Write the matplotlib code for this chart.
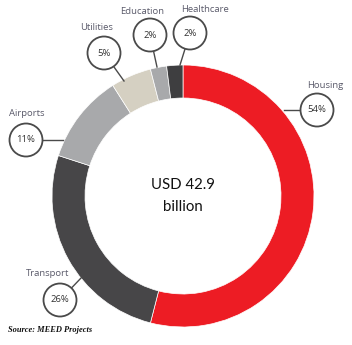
import matplotlib.pyplot as plt
from matplotlib.patches import Circle

# Data
CATEGORIES = ["Housing", "Transport", "Airports", "Utilities", "Education", "Healthcare"]
SHARES = [54, 26, 11, 5, 2, 2]
COLORS = ["#ED1C24", "#474648", "#A8A9AB", "#D5D0C2", "#A8A9AB", "#3E3E40"]
CENTER_TEXT = "USD 42.9\nbillion"
SOURCE = "Source: MEED Projects"

# Layout in pixel coordinates (y measured from bottom)
W, H = 352, 345
CX, CY = 183, H - 196
R_OUT, R_W = 131, 33

# circle position, label position, leader line start (on ring) per category
CALLOUTS = {
    "Housing": ((317, 110), (325, 85), (284, 110)),
    "Transport": ((60, 300), (48, 274), (82, 277)),
    "Airports": ((26, 140), (27, 114), (63, 140)),
    "Utilities": ((104, 53), (97, 28), (124, 81)),
    "Education": ((150, 35), (142, 11), (157, 67)),
    "Healthcare": ((190, 33), (205, 10), (180, 65)),
}
CIRCLE_R = 16.5


def main():
    fig = plt.figure(figsize=(W / 100, H / 100), dpi=100)
    ax = fig.add_axes([0, 0, 1, 1])

    ax.pie(
        SHARES,
        colors=COLORS,
        center=(CX, CY),
        radius=R_OUT,
        startangle=90,
        counterclock=False,
        wedgeprops=dict(width=R_W, linewidth=0.5, edgecolor="white"),
        frame=True,
    )
    ax.set_xlim(0, W)
    ax.set_ylim(0, H)
    ax.set_aspect("equal")
    ax.axis("off")

    ax.text(183, H - 185, "USD 42.9", ha="center", va="center",
            fontsize=10.8, color="#111111", family="Lato")
    ax.text(183, H - 207, "billion", ha="center", va="center",
            fontsize=10.8, color="#111111", family="Lato")

    for name, share in zip(CATEGORIES, SHARES):
        (px, py), (lx, ly), (sx, sy) = CALLOUTS[name]
        py, ly, sy = H - py, H - ly, H - sy
        # leader line from ring to circle edge
        dx, dy = px - sx, py - sy
        d = (dx ** 2 + dy ** 2) ** 0.5
        ex, ey = px - dx / d * CIRCLE_R, py - dy / d * CIRCLE_R
        ax.plot([sx, ex], [sy, ey], color="#4a4a4a", linewidth=1.0, zorder=3)
        ax.add_patch(Circle((px, py), CIRCLE_R, facecolor="white",
                            edgecolor="#4a4a4a", linewidth=1.3, zorder=4))
        ax.text(px, py, f"{share}%", ha="center", va="center", fontsize=6.8,
                color="#333333", family="Open Sans", zorder=5)
        ax.text(lx, ly, name, ha="center", va="center", fontsize=6.8,
                color="#5a5a6a", family="Open Sans")

    ax.text(8, H - 330, SOURCE, ha="left", va="center", fontsize=6,
            style="italic", fontweight="bold", family="Liberation Serif",
            color="#111111")

    fig.savefig("out.png", dpi=100)


if __name__ == "__main__":
    main()
